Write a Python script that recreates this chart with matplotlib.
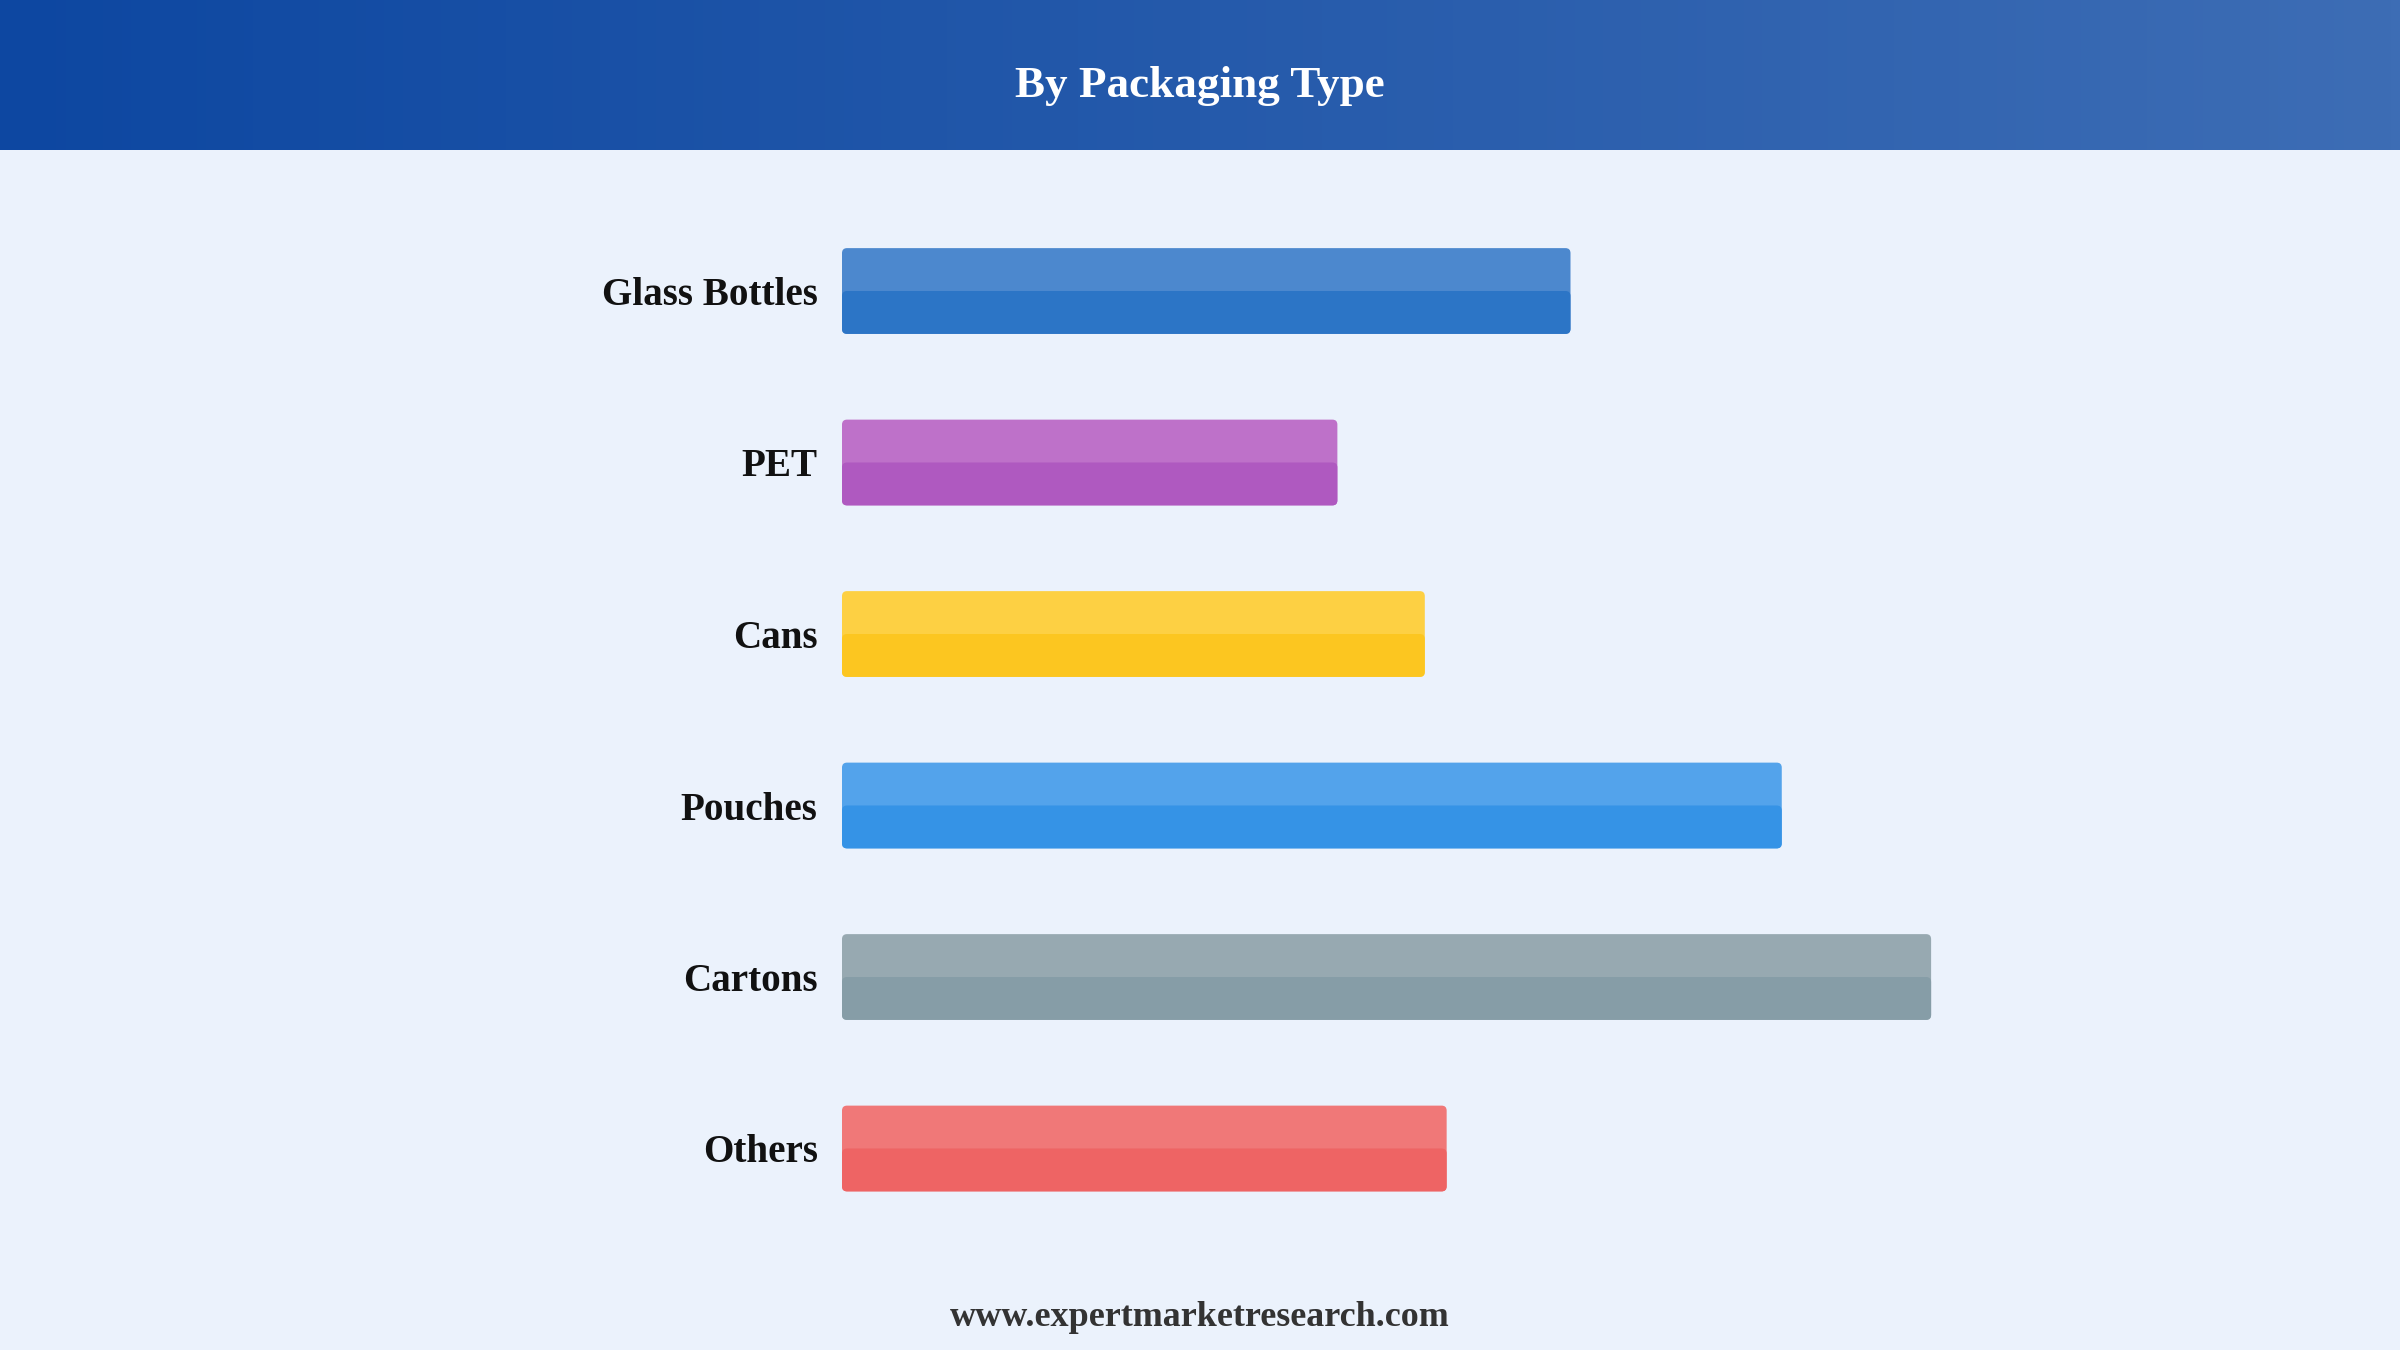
import numpy as np
import matplotlib.pyplot as plt
from matplotlib.patches import FancyBboxPatch
import matplotlib.colors as mcolors

categories = ["Glass Bottles", "PET", "Cans", "Pouches", "Cartons", "Others"]
values = [20.0, 13.6, 16.0, 25.8, 29.9, 16.6]
dark_colors = ["#2C75C6", "#AF59C0", "#FCC620", "#3593E6", "#869DA7", "#EE6464"]
light_colors = ["#4C88CE", "#BE71C9", "#FDD043", "#53A3EB", "#97A9B1", "#F07878"]

title = "By Packaging Type"
footer = "www.expertmarketresearch.com"

W, H = 2400, 1350
fig = plt.figure(figsize=(24, 13.5), dpi=100)
fig.patch.set_facecolor("#EBF2FC")

# header band with horizontal gradient
hdr = fig.add_axes([0, 1 - 150 / H, 1, 150 / H])
cmap = mcolors.LinearSegmentedColormap.from_list("hdr", ["#0D47A1", "#3D6DB5"])
hdr.imshow(np.linspace(0, 1, 256)[None, :], aspect="auto", cmap=cmap, extent=[0, 1, 0, 1])
hdr.set_axis_off()
hdr.text(0.5, 0.43, title, color="white", fontsize=32.5, fontweight="bold",
         family="Liberation Serif", ha="center", va="center", transform=hdr.transAxes)

# bar chart area
left_px, top_px = 842, 205.25
ax_w, ax_h = 1457, 1029
ax = fig.add_axes([left_px / W, 1 - (top_px + ax_h) / H, ax_w / W, ax_h / H])
ax.set_facecolor("none")
ax.set_xlim(0, 40)
ax.set_ylim(5.5, -0.5)

y = np.arange(len(categories))
bh = 0.5
bars = ax.barh(y, values, height=bh, color=light_colors)

# px-per-unit ratio for round corners
xu = ax_w / 40.0
yu = ax_h / 6.0
aspect = xu / yu
r = 5 / xu

for b, dc, lc in zip(bars, dark_colors, light_colors):
    x0, y0, w, h = b.get_x(), b.get_y(), b.get_width(), b.get_height()
    b.set_visible(False)
    full = FancyBboxPatch((x0, y0), w, h, boxstyle=f"round,pad=0,rounding_size={r}",
                          mutation_aspect=aspect, fc=lc, ec="none")
    ax.add_patch(full)
    lower = FancyBboxPatch((x0, y0 + h / 2), w, h / 2, boxstyle=f"round,pad=0,rounding_size={r}",
                           mutation_aspect=aspect, fc=dc, ec="none")
    ax.add_patch(lower)

ax.set_yticks(y)
ax.set_yticklabels(categories, fontsize=28.2, fontweight="bold", family="Liberation Serif",
                   color="#111111")
ax.tick_params(axis="y", length=0, pad=17.5)
ax.set_xticks([])
for s in ax.spines.values():
    s.set_visible(False)

fig.text(0.5, 1 - 1318 / H, footer, fontsize=25.9, fontweight="bold", family="Liberation Serif",
         color="#333333", ha="center", va="center")

fig.savefig("out.png", dpi=100, facecolor=fig.get_facecolor())
